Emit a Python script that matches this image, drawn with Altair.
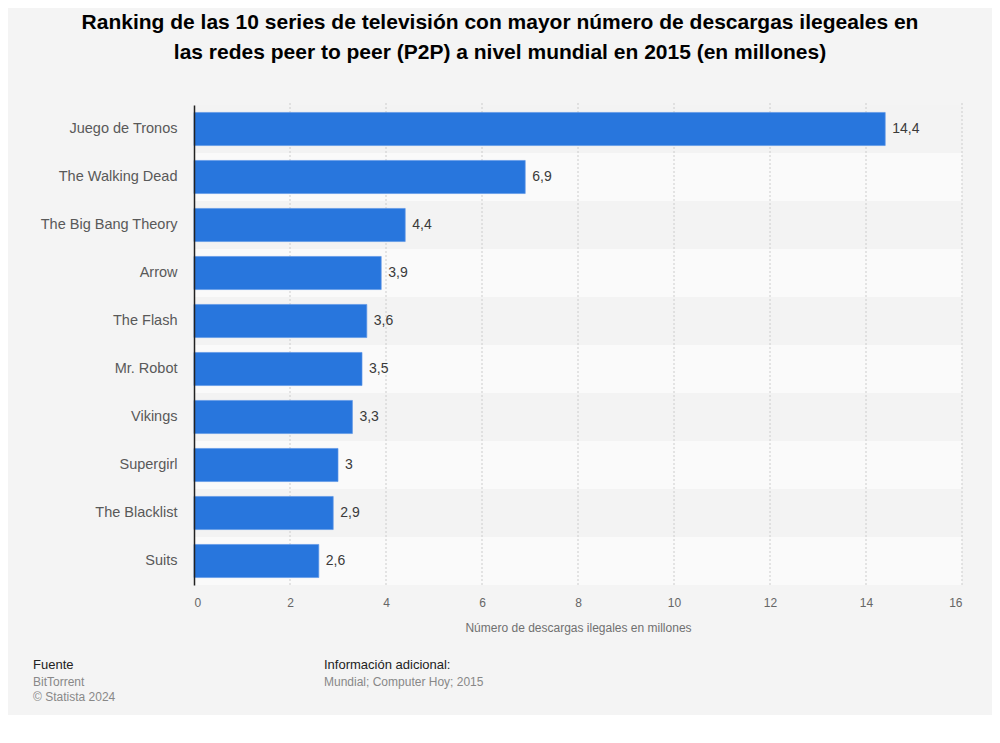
import altair as alt
import pandas as pd

names = ["Juego de Tronos", "The Walking Dead", "The Big Bang Theory", "Arrow",
         "The Flash", "Mr. Robot", "Vikings", "Supergirl", "The Blacklist", "Suits"]
values = [14.4, 6.9, 4.4, 3.9, 3.6, 3.5, 3.3, 3.0, 2.9, 2.6]
ticks = [0, 2, 4, 6, 8, 10, 12, 14, 16]
grid_ticks = [2, 4, 6, 8, 10, 12, 14, 16]

title_lines = [
    "Ranking de las 10 series de televisión con mayor número de descargas ilegeales en",
    "las redes peer to peer (P2P) a nivel mundial en 2015 (en millones)",
]
x_title = "Número de descargas ilegales en millones"

df = pd.DataFrame({
    "name": names,
    "v": values,
    "label": [f"{v:g}".replace(".", ",") for v in values],
    "band": ["a" if i % 2 == 0 else "b" for i in range(len(names))],
})
grid_df = pd.DataFrame({"v": grid_ticks})

FONT = "Liberation Sans"

y_enc = alt.Y("name:N", sort=names, title=None,
              scale=alt.Scale(paddingInner=0, paddingOuter=0),
              axis=alt.Axis(domain=True, domainColor="#222222", domainWidth=1.5,
                            ticks=False, labelFontSize=14.5, labelColor="#595959",
                            labelFont=FONT, labelPadding=17, labelLimit=300))
x_scale = alt.Scale(domain=[0, 16], nice=False)
x_axis = alt.Axis(values=ticks, title=x_title, grid=False, domain=False, ticks=False,
                  labelFontSize=12, labelColor="#666666", labelFont=FONT, labelPadding=12,
                  titleFontSize=12, titleColor="#707070", titleFont=FONT,
                  titleFontWeight="normal", titlePadding=14)
x_enc = alt.X("v:Q", scale=x_scale, axis=x_axis)

base = alt.Chart(df)

bands = base.mark_rect().encode(
    y=y_enc,
    x=alt.value(0), x2=alt.value(768),
    color=alt.Color("band:N", scale=alt.Scale(domain=["a", "b"], range=["#f3f3f3", "#fafafa"]),
                    legend=None),
)

grid = alt.Chart(grid_df).mark_rule(color="#cccccc", strokeDash=[2, 2], strokeWidth=1).encode(
    x=x_enc, y=alt.value(-2), y2=alt.value(480)
)

bars = base.mark_bar(color="#2876dd", height=alt.RelativeBandSize(0.69),
                     stroke="#5b97e6", strokeWidth=0.7).encode(x=x_enc, y=y_enc)

labels = base.mark_text(align="left", baseline="middle", dx=7, fontSize=14,
                        color="#3a3a3a", font=FONT).encode(x=x_enc, y=y_enc, text="label:N")

one = alt.Data(values=[{"k": 1}])

def txt(s, x, y, size, color, weight="normal", align="left"):
    return alt.Chart(one).mark_text(align=align, baseline="middle", fontSize=size,
                                    color=color, fontWeight=weight, font=FONT).encode(
        x=alt.value(x), y=alt.value(y), text=alt.value(s))

title1 = txt(title_lines[0], 306, -82, 21, "#000000", "bold", "center")
title2 = txt(title_lines[1], 306, -52, 21, "#000000", "bold", "center")
f1 = txt("Fuente", -161, 560, 13, "#222222")
f2 = txt("BitTorrent", -161, 577, 12, "#888888")
f3 = txt("© Statista 2024", -161, 592, 12, "#888888")
f4 = txt("Información adicional:", 130, 560, 13, "#222222")
f5 = txt("Mundial; Computer Hoy; 2015", 130, 577, 12, "#888888")

chart = alt.layer(bands, grid, bars, labels, title1, title2, f1, f2, f3, f4, f5).properties(
    width=768, height=480,
    padding={"left": 186, "top": 97, "right": 30, "bottom": 130},
    autosize=alt.AutoSizeParams(type="none"),
    background="#f4f4f4",
).configure_view(stroke=None)

chart.save("out.html", embed_options={"renderer": "svg", "actions": False})
